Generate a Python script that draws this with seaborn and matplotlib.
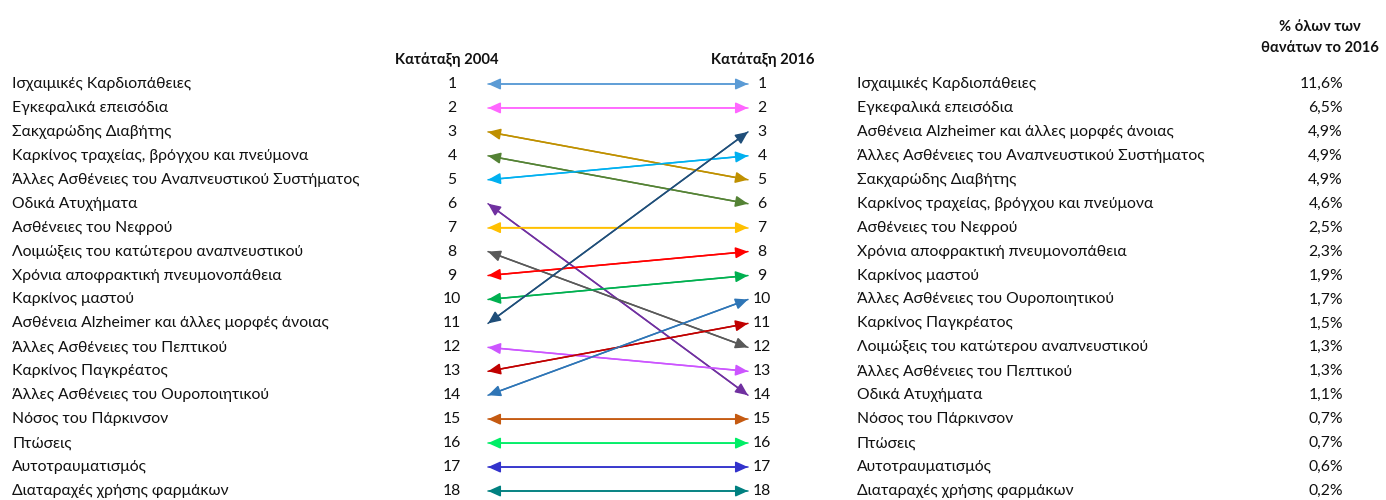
import matplotlib
matplotlib.use("Agg")
import matplotlib.pyplot as plt
import seaborn as sns
import pandas as pd

causes_2004 = [
    "Ισχαιμικές Καρδιοπάθειες", "Εγκεφαλικά επεισόδια", "Σακχαρώδης Διαβήτης",
    "Καρκίνος τραχείας, βρόγχου και πνεύμονα", "Άλλες Ασθένειες του Αναπνευστικού Συστήματος",
    "Οδικά Ατυχήματα", "Ασθένειες του Νεφρού", "Λοιμώξεις του κατώτερου αναπνευστικού",
    "Χρόνια αποφρακτική πνευμονοπάθεια", "Καρκίνος μαστού",
    "Ασθένεια Alzheimer και άλλες μορφές άνοιας", "Άλλες Ασθένειες του Πεπτικού",
    "Καρκίνος Παγκρέατος", "Άλλες Ασθένειες του Ουροποιητικού", "Νόσος του Πάρκινσον",
    "Πτώσεις", "Αυτοτραυματισμός", "Διαταραχές χρήσης φαρμάκων",
]
rank_2004 = list(range(1, 19))
rank_2016 = [1, 2, 5, 6, 4, 14, 7, 12, 8, 9, 3, 13, 11, 10, 15, 16, 17, 18]

causes_2016 = [
    "Ισχαιμικές Καρδιοπάθειες", "Εγκεφαλικά επεισόδια",
    "Ασθένεια Alzheimer και άλλες μορφές άνοιας", "Άλλες Ασθένειες του Αναπνευστικού Συστήματος",
    "Σακχαρώδης Διαβήτης", "Καρκίνος τραχείας, βρόγχου και πνεύμονα", "Ασθένειες του Νεφρού",
    "Χρόνια αποφρακτική πνευμονοπάθεια", "Καρκίνος μαστού", "Άλλες Ασθένειες του Ουροποιητικού",
    "Καρκίνος Παγκρέατος", "Λοιμώξεις του κατώτερου αναπνευστικού", "Άλλες Ασθένειες του Πεπτικού",
    "Οδικά Ατυχήματα", "Νόσος του Πάρκινσον", "Πτώσεις", "Αυτοτραυματισμός",
    "Διαταραχές χρήσης φαρμάκων",
]
pct_2016 = ["11,6%", "6,5%", "4,9%", "4,9%", "4,9%", "4,6%", "2,5%", "2,3%", "1,9%",
            "1,7%", "1,5%", "1,3%", "1,3%", "1,1%", "0,7%", "0,7%", "0,6%", "0,2%"]

arrow_colors = ["#5B9BD5", "#FF66FF", "#BF9000", "#548235", "#00B0F0", "#7030A0",
                "#FFC000", "#595959", "#FF0000", "#00B050", "#1F4E79", "#CC55FF",
                "#C00000", "#2E75B6", "#C55A11", "#00EE66", "#3333CC", "#008080"]

sns.set_theme(style="white")
plt.rcParams["font.family"] = ["Lato", "DejaVu Sans"]
FS = 11.3
FSB = 10.6

fig = plt.figure(figsize=(13.86, 5.0), dpi=100)
ax = fig.add_axes([0, 0, 1, 1])
step = (491 - 84) / 17
YLIM = (1 + (500 - 84) / step, 1 - 84 / step)

XL, XR = 488, 748

rows = []
for i, c in enumerate(causes_2004):
    rows.append({"cause": c, "x": XL, "rank": rank_2004[i]})
    rows.append({"cause": c, "x": XR, "rank": rank_2016[i]})
df = pd.DataFrame(rows)
pal = dict(zip(causes_2004, arrow_colors))
sns.lineplot(data=df, x="x", y="rank", hue="cause", units="cause", estimator=None,
             palette=pal, legend=False, lw=1.1, ax=ax, sort=False)
ax.set_xlim(0, 1386)
ax.set_ylim(*YLIM)
ax.axis("off")

for i, c in enumerate(causes_2004):
    ax.annotate("", xy=(XR, rank_2016[i]), xytext=(XL, rank_2004[i]),
                arrowprops=dict(arrowstyle="<|-|>,head_length=1.0,head_width=0.45",
                                color=arrow_colors[i], lw=1.1,
                                shrinkA=0, shrinkB=0, mutation_scale=7.5))

for i, c in enumerate(causes_2004):
    r = rank_2004[i]
    ax.text(12, r, c, ha="left", va="center", fontsize=FS, color="#111111")
    ax.text(452, r, str(r), ha="center", va="center", fontsize=FS, color="#111111")

for i, c in enumerate(causes_2016):
    r = i + 1
    ax.text(762, r, str(r), ha="center", va="center", fontsize=FS, color="#111111")
    ax.text(857, r, c, ha="left", va="center", fontsize=FS, color="#111111")
    ax.text(1343, r, pct_2016[i], ha="right", va="center", fontsize=FS, color="#111111")

ax.text(447, 1 - (84 - 60) / step, "Κατάταξη 2004", ha="center", va="center", fontsize=FSB,
        fontweight="bold", color="#111111")
ax.text(763, 1 - (84 - 60) / step, "Κατάταξη 2016", ha="center", va="center", fontsize=FSB,
        fontweight="bold", color="#111111")
ax.text(1320, 1 - (84 - 27) / step, "% όλων των", ha="center", va="center", fontsize=FSB,
        fontweight="bold", color="#111111")
ax.text(1320, 1 - (84 - 48) / step, "θανάτων το 2016", ha="center", va="center", fontsize=FSB,
        fontweight="bold", color="#111111")

fig.savefig("out.png", dpi=100, facecolor="white")
